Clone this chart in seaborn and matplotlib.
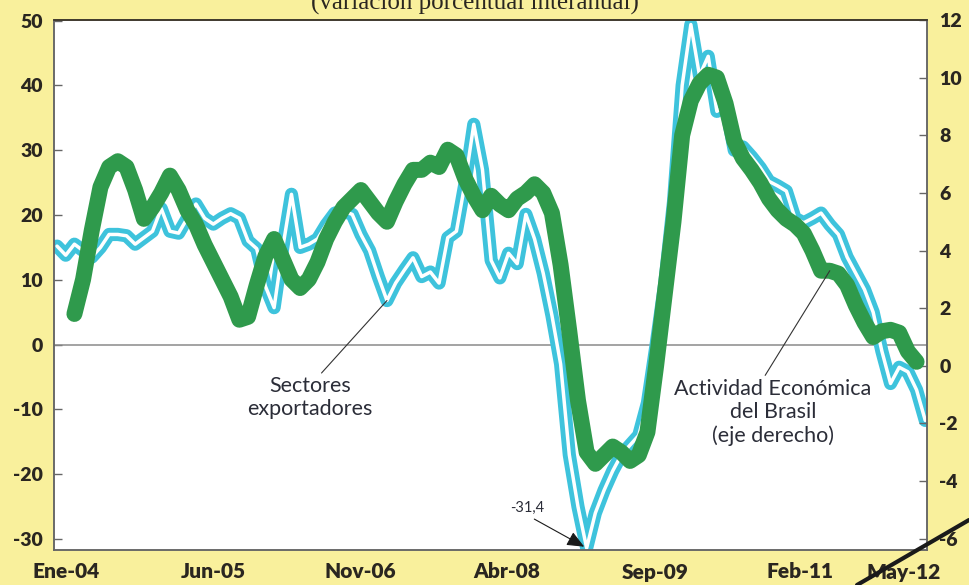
import matplotlib
matplotlib.use("Agg")
import matplotlib.pyplot as plt
from matplotlib.lines import Line2D
import seaborn as sns
import pandas as pd
import numpy as np

# etiquetas del eje x (cada 17 meses, la ultima a mano)
meses_lbl = ["Ene-04", "Jun-05", "Nov-06", "Abr-08", "Sep-09", "Feb-11", "May-12"]
meses_pos = [1.1, 18, 34.9, 51.8, 68.9, 85.6, 97.5]

# sectores exportadores, var. % interanual (eje izq), ene-04 .. may-12
export = [15.2, 13.8, 15.5, 14.5, 13.5, 15.0, 17.0, 17.0, 16.8, 15.5,
          16.5, 17.5, 21.0, 17.5, 17.2, 19.5, 21.7, 19.5, 18.6, 19.5,
          20.2, 19.5, 16.0, 14.8, 9.0, 5.7, 15.0, 23.2, 15.0, 15.5,
          16.3, 18.5, 20.3, 20.6, 20.1, 17.0, 14.5, 10.5, 6.8, 9.5,
          11.5, 13.4, 10.5, 11.2, 9.5, 16.5, 17.5, 25.0, 34.0, 27.0,
          13.0, 10.3, 14.1, 12.5, 20.1, 16.3, 11.0, 4.5, -3.0, -17.0,
          -25.0, -31.4, -26.0, -22.5, -19.5, -17.0, -15.5, -14.0, -9.0, 0.0,
          9.5, 22.0, 40.0, 49.4, 41.5, 44.5, 36.0, 37.0, 30.0, 30.5,
          29.0, 27.3, 25.2, 24.5, 23.7, 19.5, 18.8, 19.5, 20.3, 18.5,
          17.0, 13.5, 11.0, 8.5, 5.0, -1.0, -6.0, -3.5, -4.2, -7.0,
          -11.7]

# actividad economica del Brasil (eje der), desde mar-04 hasta abr-12
nan = np.nan
actividad = [nan, nan,
             1.8, 3.0, 4.7, 6.2, 6.9, 7.1, 6.9, 6.1,
             5.1, 5.5, 6.0, 6.6, 6.1, 5.4, 4.9, 4.2, 3.6, 3.0,
             2.4, 1.6, 1.7, 2.8, 3.8, 4.4, 3.7, 3.0, 2.7, 3.0,
             3.6, 4.4, 5.0, 5.5, 5.8, 6.1, 5.7, 5.3, 5.0, 5.7,
             6.3, 6.8, 6.8, 7.05, 6.9, 7.5, 7.3, 6.5, 5.9, 5.4,
             5.9, 5.6, 5.4, 5.8, 6.0, 6.3, 6.0, 5.3, 3.5, 1.2,
             -1.2, -3.0, -3.4, -3.1, -2.8, -3.0, -3.3, -3.1, -2.3, 0.0,
             2.5, 5.0, 8.0, 9.2, 9.8, 10.1, 10.0, 9.1, 7.8, 7.2,
             6.8, 6.35, 5.8, 5.4, 5.1, 4.9, 4.6, 4.0, 3.3, 3.3,
             3.2, 2.8, 2.1, 1.5, 1.0, 1.2, 1.25, 1.15, 0.5, 0.14,
             nan]

df = pd.DataFrame({"mes": np.arange(len(export)),
                   "export": export,
                   "actividad": actividad})

sns.set_theme(style="white")
plt.rcParams["font.family"] = ["Lato", "DejaVu Sans"]
plt.rcParams["axes.unicode_minus"] = False

amarillo = "#f9f09c"
texto = "#2a2620"

fig = plt.figure(figsize=(9.69, 5.85), dpi=100, facecolor=amarillo)
ax = fig.add_axes([54 / 969, 35 / 585, 873 / 969, 530 / 585])
ax.set_facecolor("white")

ax.axhline(0, color="#8a8a8a", lw=1.1, zorder=1)

# linea doble: celeste con centro blanco
sns.lineplot(data=df, x="mes", y="export", ax=ax, color="#3ec3dc",
             linewidth=9.5, solid_capstyle="round", solid_joinstyle="round")
sns.lineplot(data=df, x="mes", y="export", ax=ax, color="white",
             linewidth=2.5, solid_capstyle="round", solid_joinstyle="round")

ax2 = ax.twinx()
sns.lineplot(data=df, x="mes", y="actividad", ax=ax2, color="#2f9a4c",
             linewidth=11.5, solid_capstyle="round", solid_joinstyle="round")

ax.set_xlim(-0.35, 100.2)
ax.set_ylim(-31.7, 50.1)
ax2.set_ylim(-6.39, 12.0)
ax.set_yticks(range(-30, 51, 10))
ax2.set_yticks(range(-6, 13, 2))
ax.set_xticks(meses_pos, meses_lbl)
ax.set_xlabel("")
ax.set_ylabel("")
ax2.set_ylabel("")

ax.tick_params(axis="y", direction="in", length=6, width=1, color="#666666",
               pad=8, labelsize=14, labelcolor=texto)
ax2.tick_params(axis="y", direction="in", length=6, width=1, color="#666666",
                pad=9, labelsize=14, labelcolor=texto)
ax.tick_params(axis="x", length=0, pad=9, labelsize=15, labelcolor=texto)
for lbl in ax.get_yticklabels() + ax2.get_yticklabels() + ax.get_xticklabels():
    lbl.set_fontweight("heavy")

for a in (ax, ax2):
    for s in a.spines.values():
        s.set_color("#666666")
        s.set_linewidth(1.1)
    a.spines["top"].set_color("#3a3428")

# titulo cortado arriba, como en la pagina escaneada
fig.text(0.49, 575 / 585, "(variación porcentual interanual)", ha="center",
         va="baseline", family=["Liberation Serif", "DejaVu Serif"],
         fontsize=18, color=texto)

# anotaciones
ax.annotate("Sectores\nexportadores", xy=(38, export[38]), xycoords="data",
            xytext=(0.293, 0.287), textcoords="axes fraction",
            ha="center", va="center", fontsize=15.5, color="#2b2d38",
            linespacing=1.2,
            arrowprops=dict(arrowstyle="-", color="#333333", lw=0.8,
                            shrinkA=0, shrinkB=0, relpos=(0.57, 1.0)))

ax2.annotate("Actividad Económica\ndel Brasil\n(eje derecho)",
             xy=(89, actividad[89]), xycoords="data",
             xytext=(0.8236, 0.26), textcoords="axes fraction",
             ha="center", va="center", fontsize=15.5, color="#2b2d38",
             linespacing=1.2,
             arrowprops=dict(arrowstyle="-", color="#333333", lw=0.8,
                             shrinkA=0, shrinkB=0, relpos=(0.45, 1.0)))

ax.annotate("-31,4", xy=(61, export[61]), xycoords="data",
            xytext=(0.542, 0.079), textcoords="axes fraction",
            ha="center", va="center", fontsize=10.5, color="#2b2d38",
            arrowprops=dict(arrowstyle="-|>,head_length=0.7,head_width=0.3",
                            color="#1a1a1a", lw=0.8, shrinkA=1, shrinkB=2,
                            relpos=(0.5, 0.0), mutation_scale=15))

# trazo diagonal del escaneo, abajo a la derecha
fig.add_artist(Line2D([857 / 969, 1.0], [0.0, 65 / 585],
                      transform=fig.transFigure, color="#1a1a1a", lw=3))

fig.savefig("out.png", dpi=100, facecolor=amarillo)
